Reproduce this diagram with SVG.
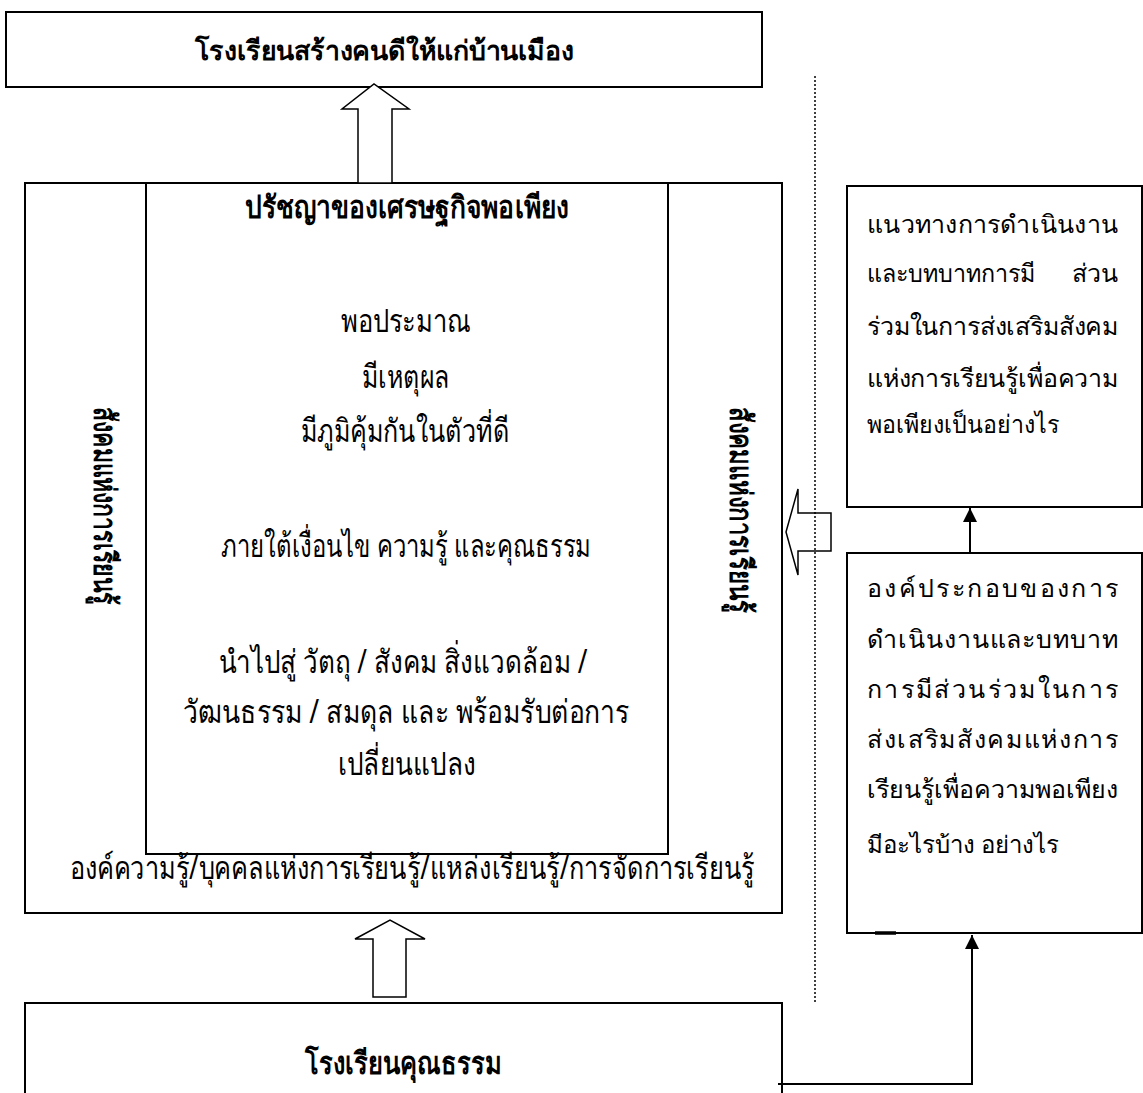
<svg xmlns="http://www.w3.org/2000/svg" width="1143" height="1093" viewBox="0 0 1143 1093">
<style>
.box{fill:#fff;stroke:#000;stroke-width:2}
.harrow{fill:#fff;stroke:#000;stroke-width:1.5;stroke-linejoin:miter}
.conn{fill:none;stroke:#000;stroke-width:2}
.dot{fill:none;stroke:#000;stroke-width:1.5;stroke-dasharray:2 2}
.sans{font-family:"Noto Sans","Liberation Sans","DejaVu Sans",sans-serif;fill:#000}
.serif{font-family:"Liberation Serif","DejaVu Serif",serif;fill:#000}
.c{text-anchor:middle}
.b{font-weight:bold}
.body{font-size:32px}
.rt{font-size:25px}
</style>
<defs>
<marker id="ah" viewBox="0 0 10 10" refX="10" refY="5" markerWidth="15" markerHeight="14" markerUnits="userSpaceOnUse" orient="auto"><path d="M0,0 L10,5 L0,10 z" fill="#000"/></marker>
</defs>

<g id="top-node">
<rect class="box" x="6" y="12" width="756" height="75"/>
<text class="sans c b" x="384" y="60" font-size="27" textLength="379" lengthAdjust="spacingAndGlyphs">โรงเรียนสร้างคนดีให้แก่บ้านเมือง</text>
</g>

<g id="middle-node">
<rect class="box" x="25" y="183" width="757" height="730"/>
<rect class="box" x="146" y="183" width="522" height="671"/>
<text class="sans c b" x="407" y="218" font-size="31" textLength="324" lengthAdjust="spacingAndGlyphs">ปรัชญาของเศรษฐกิจพอเพียง</text>
<text class="sans c body" x="406" y="332" textLength="130" lengthAdjust="spacingAndGlyphs">พอประมาณ</text>
<text class="sans c body" x="406" y="388" textLength="88" lengthAdjust="spacingAndGlyphs">มีเหตุผล</text>
<text class="sans c body" x="405" y="442" textLength="208" lengthAdjust="spacingAndGlyphs">มีภูมิคุ้มกันในตัวที่ดี</text>
<text class="sans c body" x="406" y="557" textLength="370" lengthAdjust="spacingAndGlyphs">ภายใต้เงื่อนไข ความรู้ และคุณธรรม</text>
<text class="sans c body" x="403" y="673" textLength="369" lengthAdjust="spacingAndGlyphs">นำไปสู่ วัตถุ / สังคม สิ่งแวดล้อม /</text>
<text class="sans c body" x="406" y="723" textLength="446" lengthAdjust="spacingAndGlyphs">วัฒนธรรม / สมดุล และ พร้อมรับต่อการ</text>
<text class="sans c body" x="407" y="775" textLength="138" lengthAdjust="spacingAndGlyphs">เปลี่ยนแปลง</text>
<text class="sans c body" x="412" y="879" textLength="685" lengthAdjust="spacingAndGlyphs">องค์ความรู้/บุคคลแห่งการเรียนรู้/แหล่งเรียนรู้/การจัดการเรียนรู้</text>
<text class="sans b" transform="translate(94,407) rotate(90)" x="0" y="0" font-size="31" textLength="198" lengthAdjust="spacingAndGlyphs">สังคมแห่งการเรียนรู้</text>
<text class="sans b" transform="translate(730,407) rotate(90)" x="0" y="0" font-size="31" textLength="206" lengthAdjust="spacingAndGlyphs">สังคมแห่งการเรียนรู้</text>
</g>

<g id="bottom-node">
<rect class="box" x="25" y="1003" width="757" height="100"/>
<text class="sans c b" x="403" y="1074" font-size="31" textLength="196" lengthAdjust="spacingAndGlyphs">โรงเรียนคุณธรรม</text>
</g>

<g id="guideline-node">
<rect class="box" x="847" y="186" width="295" height="321"/>
<text class="serif rt" x="867" y="233" textLength="251" lengthAdjust="spacing">แนวทางการดำเนินงาน</text>
<text class="serif rt" x="867" y="282" textLength="168" lengthAdjust="spacingAndGlyphs">และบทบาทการมี</text>
<text class="serif rt" x="1118" y="282" text-anchor="end">ส่วน</text>
<text class="serif rt" x="867" y="335" textLength="251" lengthAdjust="spacing">ร่วมในการส่งเสริมสังคม</text>
<text class="serif rt" x="867" y="387" textLength="251" lengthAdjust="spacing">แห่งการเรียนรู้เพื่อความ</text>
<text class="serif rt" x="867" y="433" textLength="192" lengthAdjust="spacingAndGlyphs">พอเพียงเป็นอย่างไร</text>
</g>

<g id="component-node">
<rect class="box" x="847" y="553" width="295" height="380"/>
<line x1="875" y1="933" x2="896" y2="933" stroke="#000" stroke-width="3.5"/>
<text class="serif rt" x="867" y="597" textLength="251" lengthAdjust="spacing">องค์ประกอบของการ</text>
<text class="serif rt" x="867" y="648" textLength="251" lengthAdjust="spacing">ดำเนินงานและบทบาท</text>
<text class="serif rt" x="867" y="698" textLength="251" lengthAdjust="spacing">การมีส่วนร่วมในการ</text>
<text class="serif rt" x="867" y="748" textLength="251" lengthAdjust="spacing">ส่งเสริมสังคมแห่งการ</text>
<text class="serif rt" x="867" y="798" textLength="251" lengthAdjust="spacing">เรียนรู้เพื่อความพอเพียง</text>
<text class="serif" x="867" y="853" font-size="24">มีอะไรบ้าง อย่างไร</text>
</g>

<g id="connectors">
<polygon class="harrow" points="358,183 358,109 342,109 374,84 409,109 392,109 392,183"/>
<polygon class="harrow" points="373,997 373,939 355,939 390,920 425,939 406,939 406,997"/>
<polygon class="harrow" points="831,513 798,513 798,489 786,532 798,575 798,551 831,551"/>
<line class="dot" x1="815" y1="76" x2="815" y2="1002"/>
<line class="conn" x1="970" y1="553" x2="970" y2="508" marker-end="url(#ah)"/>
<polyline class="conn" points="778,1084 972,1084 972,935" marker-end="url(#ah)"/>
</g>
</svg>
